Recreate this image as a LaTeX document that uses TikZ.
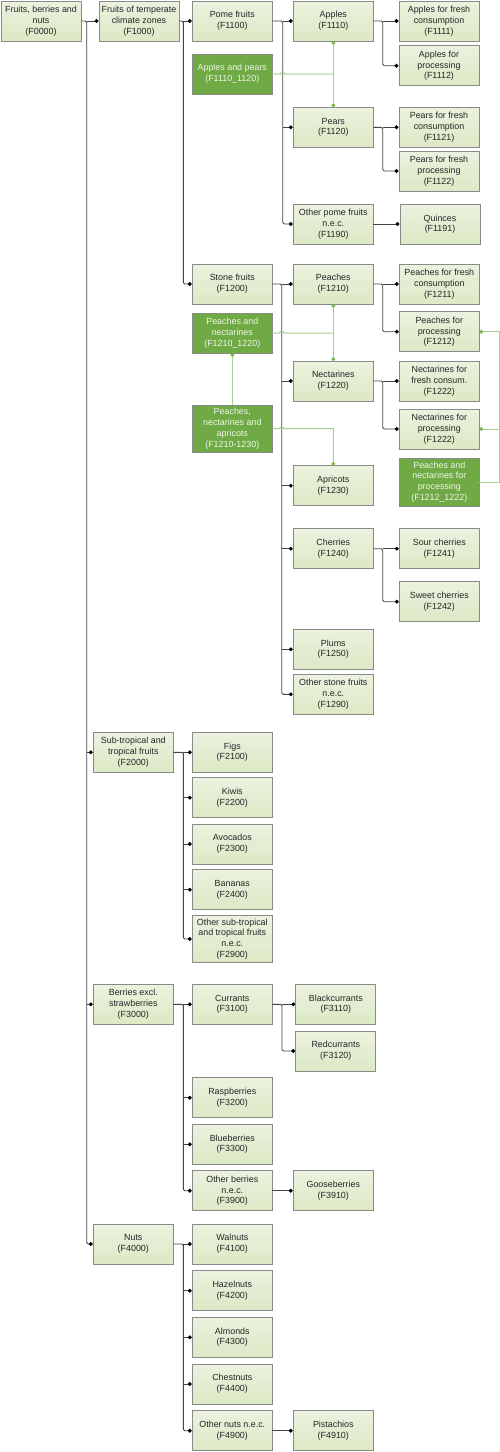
\documentclass[tikz,border=0pt]{standalone}
\usepackage{fontspec}
\setmainfont{Liberation Sans}
\usetikzlibrary{arrows.meta,shadows}
\definecolor{boxline}{HTML}{8A8A8A}
\definecolor{lgtop}{HTML}{EBF2DF}
\definecolor{lgbot}{HTML}{DCE8C5}
\definecolor{dg}{HTML}{6FAA45}
\definecolor{dgtext}{HTML}{F0F6EA}
\definecolor{txt}{HTML}{262626}
\definecolor{cgray}{HTML}{444444}
\definecolor{glight}{HTML}{A9D08E}
\definecolor{gdot}{HTML}{7DB84E}
% trunk from parent to its last child (rounded corner)
\newcommand\trunk[3]{\draw[conn] (#1.east) -- (#1.east -| #2) |- ([xshift=-0.6pt]#3.west);}
% straight stub from a trunk to a child
\newcommand\stub[2]{\draw[conn] (#2.west -| #1) -- ([xshift=-0.6pt]#2.west);}
\newcommand\direct[2]{\draw[conn] (#1.east) -- ([xshift=-0.6pt]#1.east -| #2.west);}
\begin{document}
\begin{tikzpicture}[x=1pt,y=-1pt,
  lbox/.style={draw=boxline, line width=0.7pt, top color=lgtop, bottom color=lgbot,
    minimum width=80pt, minimum height=40pt, inner sep=1pt, outer sep=0pt, align=center,
    text=txt, font=\fontsize{8.9}{10.7}\selectfont,
    drop shadow={shadow xshift=0.6pt, shadow yshift=-0.6pt, opacity=0.25}},
  gbox/.style={lbox, top color=dg, bottom color=dg, text=dgtext},
  conn/.style={draw=cgray, line width=0.9pt, rounded corners=1.5pt,
    -{Circle[length=3.8pt, color=black]}},
  gconn/.style={draw=glight, line width=1pt},
  gtip/.style={{Circle[length=3.8pt, color=gdot]}-{Circle[length=3.8pt, color=gdot]}},
  gstart/.style={{Circle[length=3.8pt, color=gdot]}-},
  gend/.style={-{Circle[length=3.8pt, color=gdot]}}
]
\useasboundingbox (0,0) rectangle (500,1452);
\fill[white] (0,0) rectangle (500,1452);

% trunk coordinates
\coordinate (tA) at (86.7,0);
\coordinate (tB) at (183.3,0);
\coordinate (tC1) at (282.7,0);
\coordinate (tC2) at (281.7,0);
\coordinate (tC3) at (282,0);
\coordinate (tD) at (382.7,0);
\coordinate (tG) at (499.2,0);

% level 0/1
\node[lbox] (F0000) at (41,21) {Fruits, berries and\\nuts\\(F0000)};
\node[lbox] (F1000) at (139,21) {Fruits of temperate\\climate zones\\(F1000)};
\node[lbox] (F2000) at (133.3,752.3) {Sub-tropical and\\tropical fruits\\(F2000)};
\node[lbox] (F3000) at (133.3,1004.3) {Berries excl.\\strawberries\\(F3000)};
\node[lbox] (F4000) at (133.3,1244) {Nuts\\(F4000)};

% pome
\node[lbox] (F1100) at (232.3,21) {Pome fruits\\(F1100)};
\node[gbox] (G1) at (232.3,74) {Apples and pears\\(F1110\_1120)};
\node[lbox] (F1110) at (333.3,21) {Apples\\(F1110)};
\node[lbox] (F1120) at (333.3,127.3) {Pears\\(F1120)};
\node[lbox] (F1190) at (333.3,224) {Other pome fruits\\n.e.c.\\(F1190)};
\node[lbox] (F1111) at (439,21) {Apples for fresh\\consumption\\(F1111)};
\node[lbox] (F1112) at (439,65.7) {Apples for\\processing\\(F1112)};
\node[lbox] (F1121) at (439,127.3) {Pears for fresh\\consumption\\(F1121)};
\node[lbox] (F1122) at (439,171) {Pears for fresh\\processing\\(F1122)};
\node[lbox] (F1191) at (440,224.3) {Quinces\\(F1191)};

% stone
\node[lbox] (F1200) at (232.3,284) {Stone fruits\\(F1200)};
\node[gbox] (G2) at (232.3,333) {Peaches and\\nectarines\\(F1210\_1220)};
\node[gbox, minimum height=47.3pt] (G3) at (232.3,428.7) {Peaches,\\nectarines and\\apricots\\(F1210-1230)};
\node[lbox] (F1210) at (333.3,284) {Peaches\\(F1210)};
\node[lbox] (F1220) at (333.3,381) {Nectarines\\(F1220)};
\node[lbox] (F1230) at (333.3,485.7) {Apricots\\(F1230)};
\node[lbox] (F1240) at (333.3,548.7) {Cherries\\(F1240)};
\node[lbox] (F1250) at (333.3,649.3) {Plums\\(F1250)};
\node[lbox] (F1290) at (333.3,694.3) {Other stone fruits\\n.e.c.\\(F1290)};
\node[lbox] (F1211) at (439.3,284) {Peaches for fresh\\consumption\\(F1211)};
\node[lbox] (F1212) at (439.3,331.7) {Peaches for\\processing\\(F1212)};
\node[lbox] (F1222a) at (439.3,381) {Nectarines for\\fresh consum.\\(F1222)};
\node[lbox] (F1222b) at (439.3,429) {Nectarines for\\processing\\(F1222)};
\node[gbox, minimum height=48pt] (G4) at (439.3,482) {Peaches and\\nectarines for\\processing\\(F1212\_1222)};
\node[lbox] (F1241) at (439.3,548.7) {Sour cherries\\(F1241)};
\node[lbox] (F1242) at (439.3,601.7) {Sweet cherries\\(F1242)};

% sub-tropical
\node[lbox] (F2100) at (232.3,752.3) {Figs\\(F2100)};
\node[lbox] (F2200) at (232.3,797.7) {Kiwis\\(F2200)};
\node[lbox] (F2300) at (232.3,844) {Avocados\\(F2300)};
\node[lbox] (F2400) at (232.3,889.7) {Bananas\\(F2400)};
\node[lbox, minimum height=46.7pt] (F2900) at (232.3,939) {Other sub-tropical\\and tropical fruits\\n.e.c.\\(F2900)};

% berries
\node[lbox] (F3100) at (232.3,1004.3) {Currants\\(F3100)};
\node[lbox] (F3110) at (335.8,1004.3) {Blackcurrants\\(F3110)};
\node[lbox] (F3120) at (335.8,1051) {Redcurrants\\(F3120)};
\node[lbox] (F3200) at (232.3,1097.7) {Raspberries\\(F3200)};
\node[lbox] (F3300) at (232.3,1144.3) {Blueberries\\(F3300)};
\node[lbox] (F3900) at (232.3,1190.7) {Other berries\\n.e.c.\\(F3900)};
\node[lbox] (F3910) at (333.3,1190.7) {Gooseberries\\(F3910)};

% nuts
\node[lbox] (F4100) at (232.3,1244) {Walnuts\\(F4100)};
\node[lbox] (F4200) at (232.3,1290.7) {Hazelnuts\\(F4200)};
\node[lbox] (F4300) at (232.3,1337.3) {Almonds\\(F4300)};
\node[lbox] (F4400) at (232.3,1384) {Chestnuts\\(F4400)};
\node[lbox] (F4900) at (232.3,1430.7) {Other nuts n.e.c.\\(F4900)};
\node[lbox] (F4910) at (333.3,1430.7) {Pistachios\\(F4910)};

% black connectors
\trunk{F0000}{tA}{F4000}
\stub{tA}{F1000}\stub{tA}{F2000}\stub{tA}{F3000}
\trunk{F1000}{tB}{F1200}
\stub{tB}{F1100}
\trunk{F1100}{tC1}{F1190}
\stub{tC1}{F1110}\stub{tC1}{F1120}
\trunk{F1110}{tD}{F1112}
\stub{tD}{F1111}
\trunk{F1120}{tD}{F1122}
\stub{tD}{F1121}
\direct{F1190}{F1191}
\trunk{F1200}{tC2}{F1290}
\stub{tC2}{F1210}\stub{tC2}{F1220}\stub{tC2}{F1230}\stub{tC2}{F1240}\stub{tC2}{F1250}
\trunk{F1210}{tD}{F1212}
\stub{tD}{F1211}
\trunk{F1220}{tD}{F1222b}
\stub{tD}{F1222a}
\trunk{F1240}{tD}{F1242}
\stub{tD}{F1241}
\trunk{F2000}{tB}{F2900}
\stub{tB}{F2100}\stub{tB}{F2200}\stub{tB}{F2300}\stub{tB}{F2400}
\trunk{F3000}{tB}{F3900}
\stub{tB}{F3100}\stub{tB}{F3200}\stub{tB}{F3300}
\trunk{F3100}{tC3}{F3120}
\stub{tC3}{F3110}
\direct{F3900}{F3910}
\trunk{F4000}{tB}{F4900}
\stub{tB}{F4100}\stub{tB}{F4200}\stub{tB}{F4300}\stub{tB}{F4400}
\direct{F4900}{F4910}

% green connectors
\draw[gconn, gtip] (F1110.south) -- (F1120.north);
\draw[gconn] (G1.east) -- ([xshift=-2pt]G1.east -| tC1)
  .. controls +(0,-2.8) and +(0,-2.8) .. ([xshift=2pt]G1.east -| tC1)
  -- (G1.east -| F1110.south);
\draw[gconn, gtip] (F1210.south) -- (F1220.north);
\draw[gconn] (G2.east) -- ([xshift=-2pt]G2.east -| tC2)
  .. controls +(0,-2.8) and +(0,-2.8) .. ([xshift=2pt]G2.east -| tC2)
  -- (G2.east -| F1210.south);
\draw[gconn, gstart] (G2.south) -- (G2.south |- G3.north);
\draw[gconn, gend] (G3.east) -- ([xshift=-2pt]G3.east -| tC2)
  .. controls +(0,-2.8) and +(0,-2.8) .. ([xshift=2pt]G3.east -| tC2)
  -- (G3.east -| F1230.north) -- (F1230.north);
\draw[gconn, gstart] (F1212.east) -- (F1212.east -| tG) |- (G4.east);
\draw[gconn, gstart] (F1222b.east) -- (F1222b.east -| tG);
\end{tikzpicture}
\end{document}
